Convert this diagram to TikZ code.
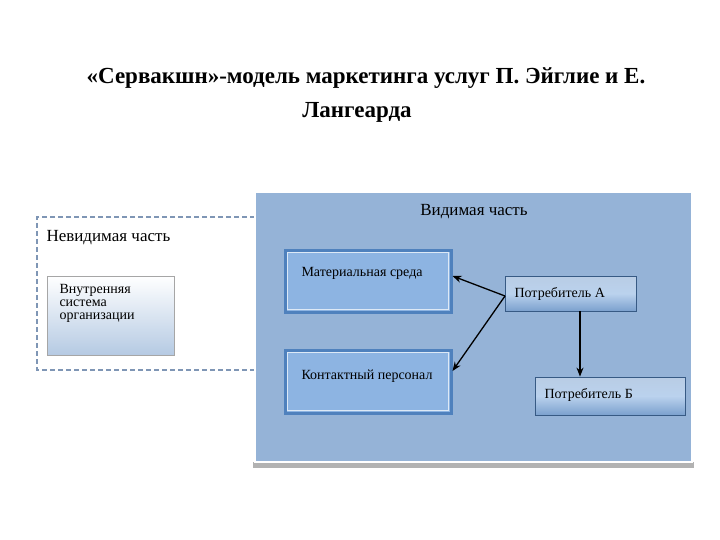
\documentclass[tikz,border=0pt]{standalone}
\usepackage{fontspec}
\setmainfont{Liberation Serif}
\usetikzlibrary{arrows.meta}
\definecolor{bgblue}{HTML}{95B3D7}
\definecolor{boxblue}{HTML}{8DB4E2}
\definecolor{edgeblue}{HTML}{4F81BD}
\definecolor{dashc}{HTML}{7F96B5}
\tikzset{
  outerbox/.style={draw=edgeblue,line width=3pt,fill=boxblue,inner sep=0},
  pbox/.style={draw=edgeblue!70!black,line width=0.8pt,top color=edgeblue!40,bottom color=edgeblue!75,middle color=boxblue!60,inner sep=0},
  lbl/.style={font=\fontsize{14}{15}\selectfont,anchor=north west,align=left},
  arr/.style={-{Stealth[length=9pt,width=7pt]},line width=1.3pt}
}
\begin{document}
\begin{tikzpicture}[x=1pt,y=-1pt]
\useasboundingbox (0,0) rectangle (720,540);
\node[font=\bfseries\fontsize{23}{26}\selectfont,inner sep=0] (t1) at (366,78) {«Сервакшн»-модель маркетинга услуг П. Эйглие и Е.};
\node[font=\bfseries\fontsize{23}{26}\selectfont,inner sep=0] (t2) at (357,112) {Лангеарда};
\draw[dashc,dash pattern=on 5pt off 3pt,line width=1.5pt] (255,217) -- (37,217) -- (37,370) -- (255,370);
\node[anchor=west,font=\fontsize{17}{19}\selectfont] (inv) at (43,238) {Невидимая часть};
\node[draw=gray!70,top color=white,bottom color=bgblue!70,minimum width=127pt,minimum height=79pt,inner sep=0] (vs) at (110.5,315.5) {};
\node[lbl] at (56,281) {Внутренняя\\[-2pt]система\\[-2pt]организации};
\fill[gray!60] (253,462) rectangle (694,468);
\node[fill=bgblue,draw=white,line width=1.5pt,minimum width=437pt,minimum height=270pt,inner sep=0] (vis) at (473.5,327) {};
\node[font=\fontsize{17}{19}\selectfont] (vl) at (474,212) {Видимая часть};
\node[outerbox,minimum width=166pt,minimum height=62pt] (ms) at (368,281) {};
\draw[white!70!boxblue,line width=0.8pt] ([shift={(4,4)}]ms.north west) rectangle ([shift={(-4,-4)}]ms.south east);
\node[lbl] at (298,264) {Материальная среда};
\node[outerbox,minimum width=166pt,minimum height=63pt] (kp) at (368,381.5) {};
\draw[white!70!boxblue,line width=0.8pt] ([shift={(4,4)}]kp.north west) rectangle ([shift={(-4,-4)}]kp.south east);
\node[lbl] at (298,366) {Контактный персонал};
\node[pbox,minimum width=131pt,minimum height=35pt] (pa) at (570.5,293.5) {};
\node[anchor=west,font=\fontsize{14}{15}\selectfont] at (511,294) {Потребитель А};
\node[pbox,minimum width=150pt,minimum height=38pt] (pb) at (610,396) {};
\node[anchor=west,font=\fontsize{14}{15}\selectfont] at (541,395) {Потребитель Б};
\coordinate (paw) at (505,296);
\draw[arr] (paw) -- (ms.east |- 0,276);
\draw[arr] (paw) -- (kp.east |- 0,371);
\draw[arr] (pa.south -| 580,0) -- (pb.north -| 580,0);
\end{tikzpicture}
\end{document}
